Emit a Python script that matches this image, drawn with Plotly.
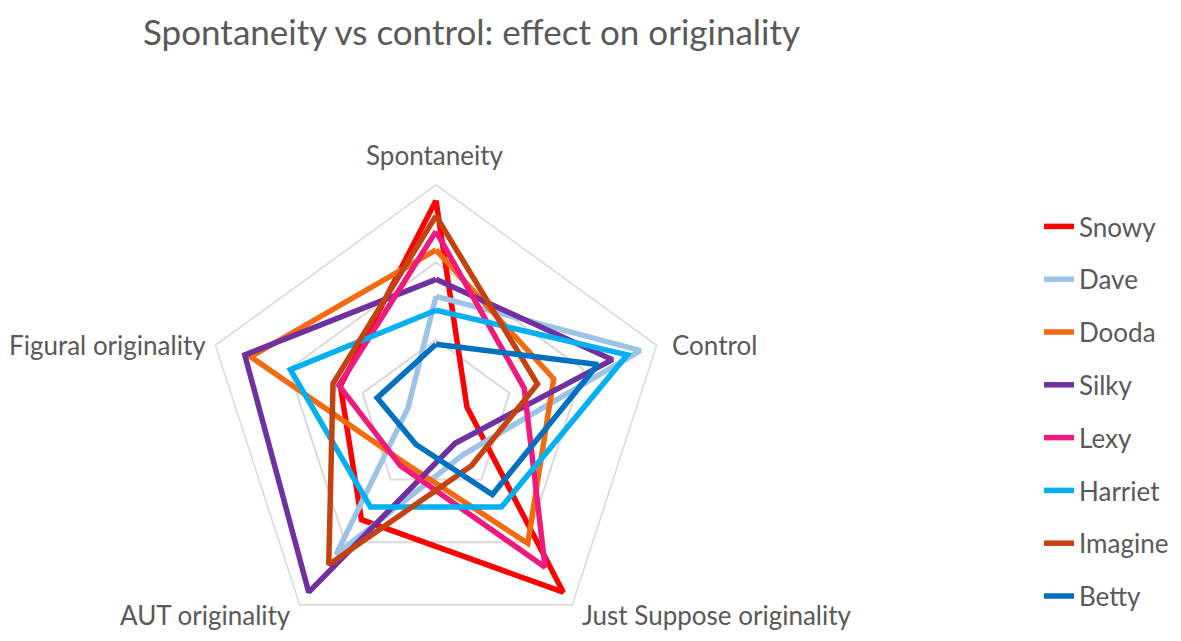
import plotly.graph_objects as go

categories = ["Spontaneity", "Control", "Just Suppose originality", "AUT originality", "Figural originality"]
names = ["Snowy", "Dave", "Dooda", "Silky", "Lexy", "Harriet", "Imagine", "Betty"]

snowy = [14.0, 2.1, 14.0, 8.2, 6.5]
dave = [7.8, 13.9, 3.0, 11.0, 1.9]
dooda = [10.8, 8.0, 10.1, 3.6, 12.6]
silky = [8.9, 12.0, 2.1, 14.0, 13.0]
lexy = [12.0, 6.0, 12.0, 3.9, 6.6]
harriet = [6.9, 13.0, 7.2, 7.2, 9.9]
imagine = [13.0, 6.9, 3.9, 11.8, 7.0]
betty = [4.7, 11.0, 6.2, 2.2, 4.0]

series = [snowy, dave, dooda, silky, lexy, harriet, imagine, betty]
colors = ["#FF0000", "#9DC3E6", "#F26B0F", "#7030A0", "#F0197D", "#00B0F0", "#C4420F", "#0070C0"]

W, H = 1181, 641
OFF = 8  # page body margin
cx, R = 436 - OFF, 232

fig = go.Figure()
for name, vals, col in zip(names, series, colors):
    fig.add_trace(go.Scatterpolar(
        r=vals + vals[:1],
        theta=categories + categories[:1],
        mode="lines",
        name=name,
        legendgroup=name,
        line=dict(color=col, width=5.5),
    ))

# category labels placed like the Excel radar labels (screen px)
label_pos = [
    (435, 155, "center"),
    (670, 345, "left"),
    (580, 615, "left"),
    (293, 615, "right"),
    (208, 345, "right"),
]
annotations = []
for cat, (lx, ly, anc) in zip(categories, label_pos):
    annotations.append(dict(
        text=cat, xref="paper", yref="paper",
        x=(lx - OFF) / W, y=1 - (ly - OFF) / H,
        xanchor=anc, yanchor="middle", showarrow=False,
        font=dict(size=26, color="#595959", family="Lato, Open Sans, sans-serif"),
    ))

fig.update_layout(
    width=W, height=H,
    margin=dict(l=0, r=0, t=0, b=0),
    paper_bgcolor="white",
    plot_bgcolor="white",
    font=dict(family="Lato, Open Sans, sans-serif", color="#595959"),
    title=dict(
        text="Spontaneity vs control: effect on originality",
        x=(143 - OFF) / W, xanchor="left",
        y=1 - 12 / H, yanchor="top",
        font=dict(size=35, color="#595959", family="Lato, Open Sans, sans-serif"),
    ),
    annotations=annotations,
    polar=dict(
        domain=dict(x=[(cx - R) / W, (cx + R) / W], y=[0, 2 * R / H]),
        gridshape="linear",
        bgcolor="white",
        radialaxis=dict(
            range=[0, 15], dtick=5, showticklabels=False, ticks="",
            showline=False, gridcolor="#D9D9D9", gridwidth=1.5,
        ),
        angularaxis=dict(
            direction="clockwise", rotation=90,
            showgrid=False, showline=True, linecolor="#D9D9D9", linewidth=1.5,
            ticks="", showticklabels=False,
        ),
    ),
    legend=dict(
        x=(1080 - 41 - OFF) / W, xanchor="left",
        y=1 - 195 / H, yanchor="top",
        font=dict(size=26, color="#595959"),
        tracegroupgap=16,
        bgcolor="rgba(0,0,0,0)",
    ),
)

fig.write_html("out.html")
